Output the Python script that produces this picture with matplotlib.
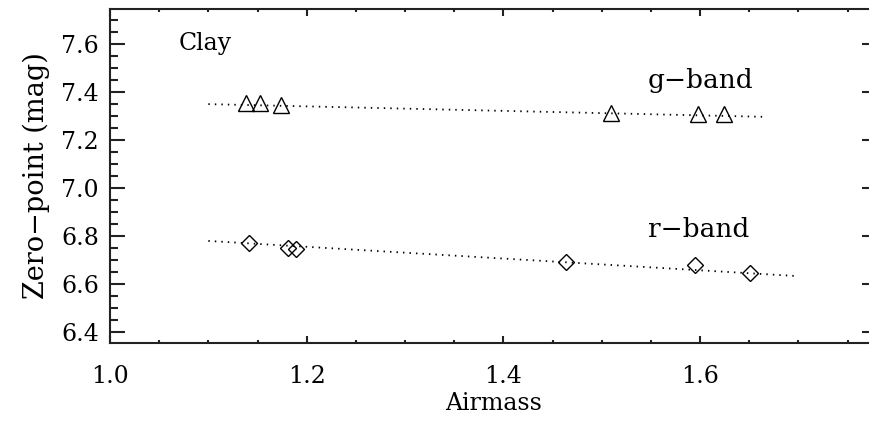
import numpy as np
import matplotlib.pyplot as plt

plt.rcParams['font.family'] = 'DejaVu Serif'

# valores
airmass_g = [1.138, 1.153, 1.174, 1.509, 1.598, 1.624]
zp_g = [7.355, 7.356, 7.345, 7.313, 7.307, 7.307]
airmass_r = [1.141, 1.181, 1.189, 1.464, 1.595, 1.651]
zp_r = [6.770, 6.750, 6.747, 6.691, 6.680, 6.645]

# ajustes lineales (extremos de cada recta)
fit_g_x = [1.10, 1.665]
fit_g_y = [7.350, 7.297]
fit_r_x = [1.10, 1.70]
fit_r_y = [6.779, 6.632]

fig = plt.figure(figsize=(8.7, 4.21), dpi=100)
ax = fig.add_axes([110 / 870, 1 - 343 / 421, 767 / 870, 334 / 421])

punteado = (0, (0.8, 2.8))
ax.plot(fit_g_x, fit_g_y, color='black', lw=1.3, linestyle=punteado)
ax.plot(fit_r_x, fit_r_y, color='black', lw=1.3, linestyle=punteado)
ax.plot(airmass_g, zp_g, linestyle='none', marker='^', ms=12,
        mfc='none', mec='black', mew=1.0)
ax.plot(airmass_r, zp_r, linestyle='none', marker='D', ms=8,
        mfc='none', mec='black', mew=1.0)

ax.text(1.070, 7.576, 'Clay', fontsize=17, va='baseline', ha='left')
ax.text(1.547, 7.418, 'g\u2212band', fontsize=19, va='baseline', ha='left')
ax.text(1.547, 6.796, 'r\u2212band', fontsize=19, va='baseline', ha='left')

ax.set_xlim(1.0, 1.78)
ax.set_ylim(6.353, 7.747)
ax.set_xticks(np.arange(1.0, 1.75, 0.2))
ax.set_xticks(np.arange(1.0, 1.78, 0.05), minor=True)
ax.set_yticks(np.arange(6.4, 7.65, 0.2))
ax.set_yticks(np.arange(6.4, 7.75, 0.05), minor=True)
ax.xaxis.set_major_formatter(plt.FormatStrFormatter('%.1f'))
ax.yaxis.set_major_formatter(plt.FormatStrFormatter('%.1f'))

ax.tick_params(axis='both', which='both', direction='in', top=True, right=True,
               labelsize=17, width=1.5, colors='#222222', labelcolor='black')
ax.tick_params(axis='y', which='major', length=11, pad=8)
ax.tick_params(axis='y', which='minor', length=5.5)
ax.tick_params(axis='x', which='major', length=4.7, pad=16)
ax.tick_params(axis='x', which='minor', length=2.4)
for s in ax.spines.values():
    s.set_linewidth(1.5)
    s.set_color('#222222')

ax.set_xlabel('Airmass', fontsize=17, labelpad=3)
ax.set_ylabel('Zero\u2212point (mag)', fontsize=19.5, labelpad=8)

fig.savefig('out.png', dpi=100)
